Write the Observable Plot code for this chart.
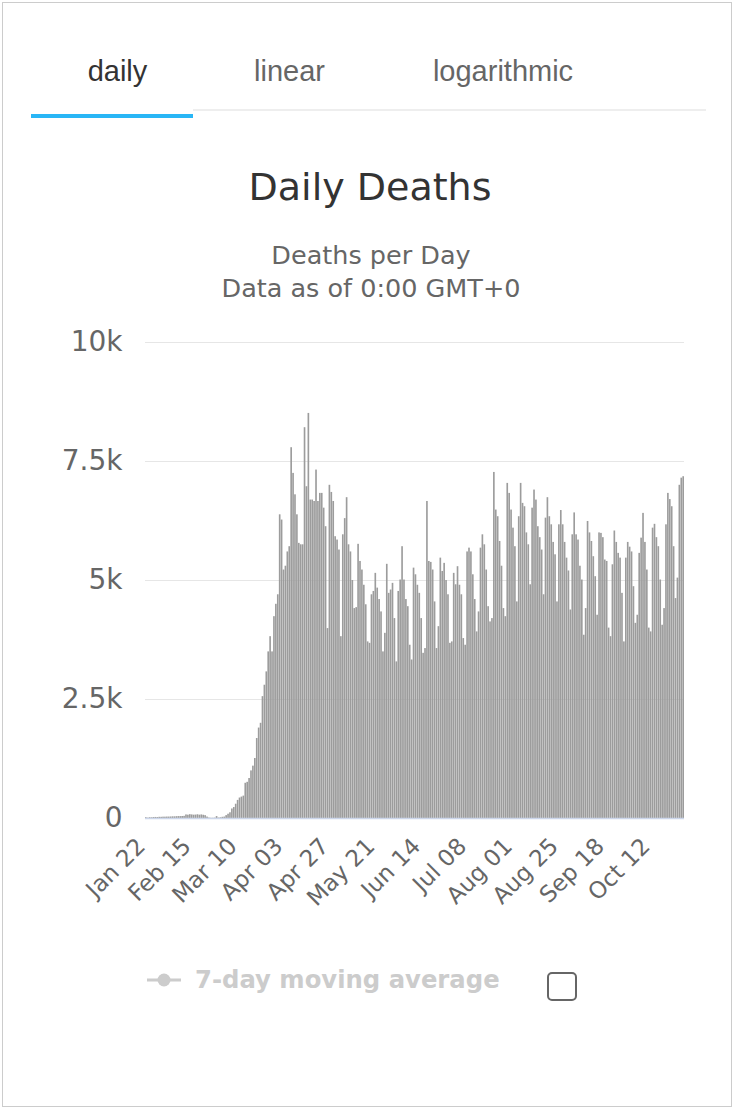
<!DOCTYPE html>
<html>
<head>
<meta charset="utf-8">
<script src="https://cdn.jsdelivr.net/npm/d3@7"></script>
<script src="https://cdn.jsdelivr.net/npm/@observablehq/plot@0.6"></script>
<style>
  html, body { margin: 0; padding: 0; background: #fff; }
  body { width: 735px; height: 1109px; position: relative; overflow: hidden; }
  #deco { position: absolute; left: 0; top: 0; }
  #chart { position: absolute; left: 0; top: 320px; }
  #chart svg { overflow: visible; }
</style>
</head>
<body>
<svg id="deco" width="735" height="1109" xmlns="http://www.w3.org/2000/svg">
  <rect x="2.5" y="2.5" width="729" height="1104" fill="none" stroke="#cccccc"/>
  <g font-family="'Liberation Sans', Arial, sans-serif" font-size="29" text-anchor="middle">
    <text x="117.5" y="81" fill="#333">daily</text>
    <text x="289.5" y="81" fill="#666">linear</text>
    <text x="503" y="81" fill="#666">logarithmic</text>
  </g>
  <rect x="193" y="109" width="513" height="2" fill="#eeeeee"/>
  <rect x="31" y="114" width="162" height="4" fill="#29b6f6"/>
  <g font-family="'DejaVu Sans', sans-serif" text-anchor="middle">
    <text x="370" y="200" font-size="38" fill="#333">Daily Deaths</text>
    <text x="371" y="264" font-size="25.5" fill="#666">Deaths per Day</text>
    <text x="371" y="297" font-size="25.5" fill="#666">Data as of 0:00 GMT+0</text>
  </g>
  <g>
    <line x1="147" y1="980" x2="181" y2="980" stroke="#cccccc" stroke-width="3"/>
    <circle cx="164" cy="980" r="6.5" fill="#cccccc"/>
    <text x="195" y="988" font-family="'DejaVu Sans', sans-serif" font-weight="bold" font-size="24.3" fill="#cccccc">7-day moving average</text>
    <rect x="548" y="973" width="28" height="27" rx="4" fill="#fff" stroke="#666" stroke-width="2"/>
  </g>
</svg>
<div id="chart"></div>
<script>
// ---- data ----
const startDate = "2020-01-22";
const endDate = "2020-10-30"; // exclusive
const deaths = [
  17,8,16,15,20,22,20,25,25,28, 28,30,30,32,35,35,38,40,40,42,
  45,75,70,80,75,70,72,78,70,75, 68,60,30,10,5,5,8,40,10,15,
  25,30,60,90,120,
  200,230,300,380,430,450,470,740,760,840,
  1000,1100,1260,1680,1900,2000,2560,2800,3080,3500,
  3820,3500,4240,4500,4700,
  6380,6270,5220,5300,5600,5710,7790,7250,6800,6380,
  5780,5750,5750,8210,6970,8510,6690,6690,6660,7320,
  6660,6830,6830,6520,6130,3990,7000,
  6850,6660,5920,5850,5640,3820,5960,6300,6740,5750,
  5600,5000,4410,4430,5760,5400,5220,4900,4490,3710,
  3680,4700,4770,5150,4840,4600,4340,3500,3890,5340,
  4730,4800,4940,4200,3290,4770,5010,5710,5010,4600,
  4450,3640,3330,
  5260,5120,4900,4730,4200,3470,3570,6660,5400,5380,
  5220,4550,3570,4030,5470,5190,5360,5000,4700,3680,
  3710,5150,4910,5290,4900,4700,3780,3640,5600,5680,
  5600,5120,4600,3920,4340,5680,5960,5750,5220,4450,
  4130,4200,7270,6480,6340,5820,5300,4410,4240,
  7040,6830,6480,6100,5710,4550,6340,7040,6620,6550,
  6000,5750,4910,6520,6900,6690,6130,5900,5640,4700,
  6310,6740,6340,6170,5800,5540,4550,6170,6470,6170,
  5800,5470,5200,4380,5960,6420,5960,5850,5300,5010,
  3850,4410,6240,6000,5820,5500,5080,4270,6000,
  5990,5900,5430,5400,4000,3820,5330,6040,5800,5570,
  5470,4730,3710,5470,5800,5700,5600,4870,4100,4270,
  5570,5890,6410,5800,5220,4000,3920,6100,6180,5900,
  5710,5010,4060,4410,6170,6830,6700,6550,5710,4620,
  5050,7000,7150,7180
];
const xTickLabels = ["Jan 22","Feb 15","Mar 10","Apr 03","Apr 27","May 21","Jun 14","Jul 08","Aug 01","Aug 25","Sep 18","Oct 12"];
const yTicks = [0, 2500, 5000, 7500, 10000];
const yTickLabels = ["0", "2.5k", "5k", "7.5k", "10k"];

// ---- build table ----
const fmt = d3.utcFormat("%b %d");
const days = d3.utcDay.range(new Date(startDate), new Date(endDate)).map(fmt);
const table = days.map((day, i) => ({day, deaths: deaths[i]}));

const font = "'DejaVu Sans', sans-serif";
const chart = Plot.plot({
  width: 735,
  height: 620,
  marginTop: 22,
  marginBottom: 122,
  marginLeft: 145,
  marginRight: 51,
  style: {fontFamily: font, fontSize: "26px", color: "#666", background: "transparent", overflow: "visible"},
  x: {type: "band", domain: days, paddingInner: 0.14, paddingOuter: 0},
  y: {domain: [0, 10000]},
  marks: [
    Plot.gridY(yTicks.slice(1), {stroke: "#e6e6e6", strokeOpacity: 1, strokeWidth: 1}),
    Plot.barY(table, {x: "day", y: "deaths", fill: "#9c9c9c"}),
    Plot.ruleY([0], {stroke: "#ccd6eb", strokeWidth: 1.5}),
    Plot.axisY(yTicks, {
      tickSize: 0, tickPadding: 23, fontSize: 28, fill: "#666",
      tickFormat: d => yTickLabels[yTicks.indexOf(d)], label: null
    }),
    Plot.axisX(xTickLabels, {
      tickSize: 0, tickPadding: 24, tickRotate: -45, fontSize: 23, fill: "#666", label: null, dx: -5
    })
  ]
});
document.getElementById("chart").appendChild(chart);
</script>
</body>
</html>
